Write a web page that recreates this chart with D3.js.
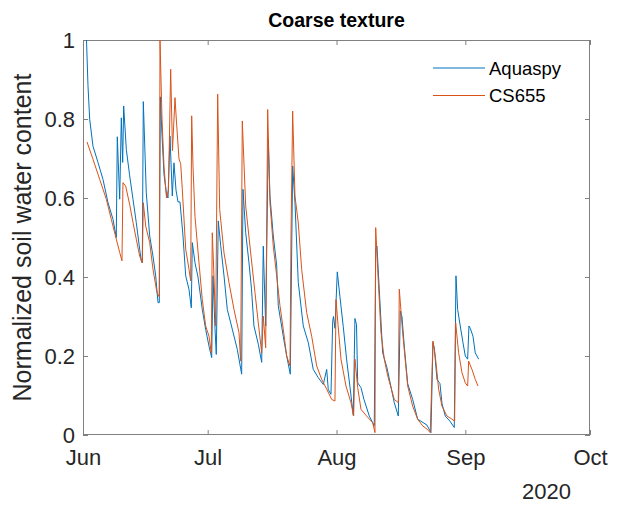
<!DOCTYPE html>
<html>
<head>
<meta charset="utf-8">
<script src="https://cdn.jsdelivr.net/npm/d3@7"></script>
<style>
  html, body { margin: 0; padding: 0; background: #fff; }
  svg { display: block; font-family: "Liberation Sans", Arial, Helvetica, sans-serif; }
</style>
</head>
<body>
<svg id="chart" width="634" height="509"></svg>
<script>
// Normalized soil water content, coarse texture site, summer 2020.
// Times are given as days since 1 June 2020 (UTC).
const seriesNames = ["Aquaspy", "CS655"];
const seriesColors = ["#0072BD", "#D95319"];

const aquaspyDays = [0.84, 1.20, 1.61, 2.41, 3.61, 4.81, 6.02, 7.22, 8.01, 8.25, 8.83, 9.22, 9.55, 9.79, 10.42, 11.24, 12.03, 12.82, 13.64, 14.03, 14.27,
  14.51, 15.23, 16.05, 16.84, 17.49, 18.05, 18.36, 18.60, 19.01, 19.49, 20.09, 20.45, 20.93, 21.49, 21.89, 22.38, 22.86, 23.34, 24.06, 24.71, 25.50, 26.06,
  26.30, 26.95, 27.67, 28.70, 29.52, 30.32, 30.97, 31.28, 31.76, 32.07, 32.55, 33.13, 33.93, 34.72, 35.92, 37.12, 38.18,
  38.50, 39.15, 39.94, 40.54, 41.14, 42.18, 43.00, 43.38, 43.96, 44.58, 44.99, 45.79, 46.60, 46.99, 48.19, 49.01, 49.88,
  50.45, 51.01, 51.80, 53.01, 54.21, 55.41, 56.62, 57.82, 58.64, 59.02, 59.67, 60.08, 60.27, 60.63, 61.19, 61.83, 62.63, 63.45, 64.24, 65.04,
  65.44, 65.81, 66.10, 66.89, 67.61, 68.89, 70.09, 70.43, 70.74, 71.29, 72.11, 73.15, 74.90, 75.87,
  76.35, 76.75, 77.31, 78.13, 79.33, 80.53, 82.05, 82.77, 83.73, 84.21, 84.53, 85.18, 85.90, 86.38, 87.17, 88.30, 89.34,
  89.75, 90.15, 90.78, 91.43, 91.99, 92.56, 92.87, 93.19, 93.84, 94.39, 94.80, 95.21];
const aquaspyValues = [1.00, 0.884, 0.799, 0.731, 0.690, 0.647, 0.588, 0.546, 0.500, 0.755, 0.597, 0.803, 0.690, 0.833, 0.723, 0.656, 0.597, 0.538, 0.470, 0.440, 0.436,
  0.844, 0.613, 0.504, 0.453, 0.403, 0.335, 0.335, 0.856, 0.760, 0.660, 0.610, 0.600, 0.757, 0.605, 0.689, 0.620, 0.590, 0.590, 0.504, 0.403, 0.369, 0.322,
  0.487, 0.436, 0.400, 0.318, 0.267, 0.225, 0.196, 0.403, 0.270, 0.204, 0.542, 0.480, 0.403, 0.318, 0.268, 0.217, 0.154,
  0.622, 0.512, 0.436, 0.370, 0.276, 0.230, 0.184, 0.478, 0.276, 0.748, 0.605, 0.504, 0.430, 0.327, 0.250, 0.200, 0.154,
  0.681, 0.588, 0.386, 0.276, 0.234, 0.166, 0.145, 0.128, 0.166, 0.115, 0.103, 0.287, 0.300, 0.270, 0.413, 0.350, 0.274, 0.190, 0.122, 0.050,
  0.295, 0.280, 0.132, 0.120, 0.090, 0.048, 0.023, 0.470, 0.478, 0.369, 0.208, 0.170, 0.082, 0.048,
  0.314, 0.300, 0.225, 0.130, 0.090, 0.040, 0.030, 0.025, 0.006, 0.234, 0.220, 0.141, 0.130, 0.080, 0.048, 0.035, 0.019,
  0.403, 0.318, 0.276, 0.234, 0.200, 0.192, 0.276, 0.270, 0.250, 0.208, 0.200, 0.192];

const cs655Days = [0.96, 2.41, 4.02, 5.61, 6.81, 8.01, 8.83, 9.38, 9.62, 10.27, 11.24, 12.03, 12.82, 13.64, 14.27,
  14.51, 15.09, 16.05, 16.84, 17.80, 18.36, 18.53, 19.01, 19.49, 20.09, 20.57, 21.10, 21.53, 22.14, 22.45, 23.10, 23.51, 23.89, 24.71, 25.50, 25.91,
  26.15, 26.47, 26.95, 27.91, 28.70, 29.52, 30.32, 30.87, 31.11, 31.45, 31.93, 32.41, 32.89, 33.93, 35.13, 36.33, 37.54, 37.94,
  38.33, 39.15, 40.35, 41.39, 42.18, 43.00, 43.38, 43.96, 44.44, 44.99, 45.79, 46.60, 47.40, 48.19, 49.01, 49.81,
  50.05, 50.45, 51.01, 51.80, 52.62, 53.82, 55.03, 56.23, 57.43, 58.64, 59.84, 60.63, 60.88, 61.36, 62.08, 63.28, 64.48, 65.13,
  65.44, 66.10, 66.89, 68.09, 69.71, 70.26, 70.43, 70.91, 71.70, 72.50, 73.32, 74.90, 75.87,
  76.11, 76.92, 78.13, 79.33, 80.53, 81.74, 82.77, 83.56, 84.21, 84.77, 85.58, 86.38, 87.58, 88.78, 89.43,
  89.67, 90.39, 91.19, 91.99, 92.56, 92.80, 93.60, 94.39, 95.05];
const cs655Values = [0.742, 0.698, 0.647, 0.597, 0.546, 0.496, 0.462, 0.441, 0.639, 0.630, 0.583, 0.538, 0.496, 0.453, 0.436,
  0.588, 0.529, 0.487, 0.420, 0.360, 0.350, 1.000, 0.800, 0.680, 0.600, 0.620, 0.926, 0.720, 0.854, 0.800, 0.699, 0.687, 0.623, 0.471, 0.420, 0.390,
  0.808, 0.680, 0.553, 0.436, 0.343, 0.276, 0.250, 0.208, 0.512, 0.420, 0.276, 0.863, 0.571, 0.461, 0.386, 0.318, 0.259, 0.187,
  0.795, 0.580, 0.461, 0.360, 0.284, 0.208, 0.301, 0.221, 0.824, 0.588, 0.478, 0.403, 0.327, 0.268, 0.200, 0.175,
  0.504, 0.820, 0.605, 0.537, 0.419, 0.310, 0.250, 0.175, 0.141, 0.116, 0.090, 0.086, 0.343, 0.280, 0.192, 0.124, 0.082, 0.048,
  0.192, 0.120, 0.065, 0.050, 0.031, 0.006, 0.525, 0.419, 0.260, 0.192, 0.150, 0.090, 0.082,
  0.369, 0.259, 0.124, 0.073, 0.040, 0.023, 0.015, 0.006, 0.238, 0.200, 0.116, 0.073, 0.048, 0.040, 0.035,
  0.284, 0.208, 0.158, 0.132, 0.124, 0.187, 0.166, 0.141, 0.124];

const yTicks = [0, 0.2, 0.4, 0.6, 0.8, 1];
const yTickLabels = ["0", "0.2", "0.4", "0.6", "0.8", "1"];
const monthTicks = ["2020-06-01", "2020-07-01", "2020-08-01", "2020-09-01", "2020-10-01"];
const yearLabel = "2020";
const titleText = "Coarse texture";
const yLabelText = "Normalized soil water content";

const DAY_MS = 864e5;
const origin = Date.UTC(2020, 5, 1);
const toDate = d => new Date(origin + d * DAY_MS);

const svg = d3.select("#chart");
const m = { left: 83, right: 590, top: 40, bottom: 435 };
const textColor = "#262626";
const axisColor = "#808080";
const tickFont = "22px";

const x = d3.scaleUtc()
  .domain([new Date(monthTicks[0]), new Date(monthTicks[monthTicks.length - 1])])
  .range([m.left, m.right]);
const y = d3.scaleLinear().domain([0, 1]).range([m.bottom, m.top]);

// clip the series to the axes box
svg.append("defs").append("clipPath").attr("id", "plotClip")
  .append("rect")
  .attr("x", m.left).attr("y", m.top)
  .attr("width", m.right - m.left).attr("height", m.bottom - m.top);

const monthDates = monthTicks.map(s => new Date(s));
const fmtMonth = d3.utcFormat("%b");

// axes: bottom/left with labels, top/right mirrored ticks only
const gx = svg.append("g").attr("transform", `translate(0,${m.bottom})`)
  .call(d3.axisBottom(x).tickValues(monthDates).tickFormat(fmtMonth)
    .tickSizeInner(-5).tickSizeOuter(0).tickPadding(14));
const gxTop = svg.append("g").attr("transform", `translate(0,${m.top})`)
  .call(d3.axisTop(x).tickValues(monthDates).tickFormat("")
    .tickSizeInner(-5).tickSizeOuter(0));
const gy = svg.append("g").attr("transform", `translate(${m.left},0)`)
  .call(d3.axisLeft(y).tickValues(yTicks).tickFormat((d, i) => yTickLabels[i])
    .tickSizeInner(-5).tickSizeOuter(0).tickPadding(8));
const gyRight = svg.append("g").attr("transform", `translate(${m.right},0)`)
  .call(d3.axisRight(y).tickValues(yTicks).tickFormat("")
    .tickSizeInner(-5).tickSizeOuter(0));

[gx, gxTop, gy, gyRight].forEach(g => {
  g.select(".domain").remove();
  g.selectAll(".tick line").attr("stroke", axisColor).attr("stroke-width", 1);
  g.selectAll(".tick text").attr("fill", textColor)
    .style("font-size", tickFont).style("font-family", "'Liberation Sans', Arial, sans-serif");
});

// axes box
svg.append("rect")
  .attr("x", m.left + 0.5).attr("y", m.top + 0.5)
  .attr("width", m.right - m.left - 1).attr("height", m.bottom - m.top - 1)
  .attr("fill", "none").attr("stroke", axisColor).attr("stroke-width", 1);

// year label under the month axis
svg.append("text")
  .attr("x", 571).attr("y", 499)
  .attr("text-anchor", "end")
  .attr("fill", textColor)
  .style("font-size", tickFont)
  .text(yearLabel);

// series lines
const seriesData = [
  aquaspyDays.map((d, i) => ({ t: toDate(d), v: aquaspyValues[i] })),
  cs655Days.map((d, i) => ({ t: toDate(d), v: cs655Values[i] }))
];
const line = d3.line().x(d => x(d.t)).y(d => y(d.v));
const plot = svg.append("g").attr("clip-path", "url(#plotClip)");
// CS655 drawn last so it sits on top
[0, 1].forEach(k => {
  plot.append("path")
    .datum(seriesData[k])
    .attr("fill", "none")
    .attr("stroke", seriesColors[k])
    .attr("stroke-width", 1)
    .attr("stroke-linejoin", "round")
    .attr("d", line);
});

// title
svg.append("text")
  .attr("x", (m.left + m.right) / 2).attr("y", 27)
  .attr("text-anchor", "middle")
  .attr("fill", "#000")
  .style("font-size", "19.5px").style("font-weight", "bold")
  .text(titleText);

// y-axis label
svg.append("text")
  .attr("transform", `translate(31,${(m.top + m.bottom) / 2}) rotate(-90)`)
  .attr("text-anchor", "middle")
  .attr("fill", textColor)
  .style("font-size", "25px")
  .text(yLabelText);

// legend (no box)
const legend = svg.append("g");
seriesNames.forEach((name, i) => {
  const ly = 68 + i * 27.5;
  legend.append("line")
    .attr("x1", 433).attr("x2", 485).attr("y1", ly).attr("y2", ly)
    .attr("stroke", seriesColors[i]).attr("stroke-width", 1);
  legend.append("text")
    .attr("x", 489).attr("y", ly)
    .attr("dy", "0.36em")
    .attr("fill", "#000")
    .style("font-size", "18.5px")
    .text(name);
});
</script>
</body>
</html>
